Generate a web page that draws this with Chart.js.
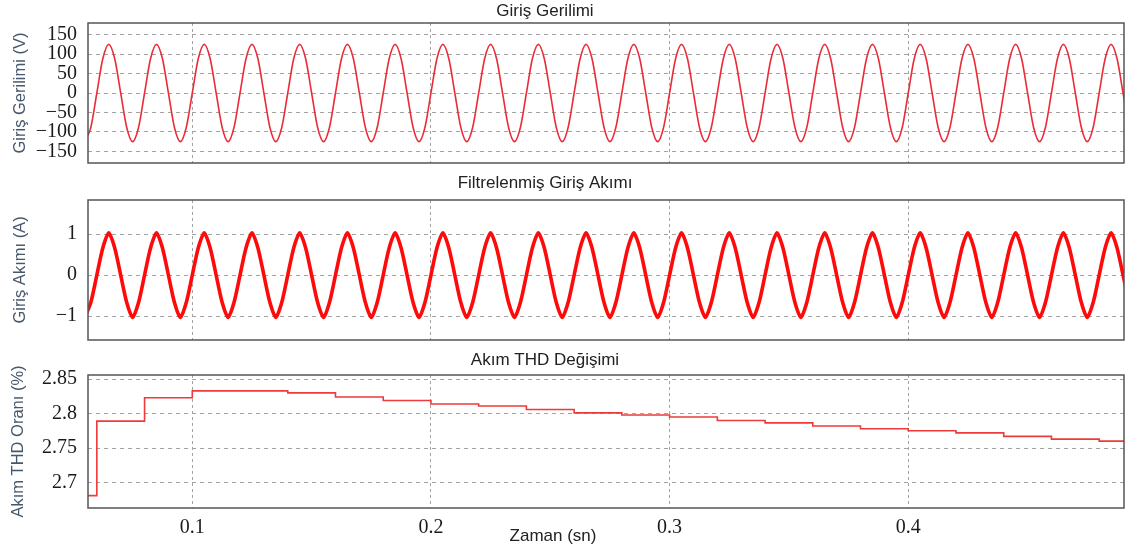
<!DOCTYPE html>
<html>
<head>
<meta charset="utf-8">
<title>Giriş Gerilimi / Akımı / THD</title>
<script src="https://cdn.jsdelivr.net/npm/chart.js@4.4.0/dist/chart.umd.min.js"></script>
<style>
  body { margin: 0; background: #fff; }
  #wrap { position: relative; width: 1125px; height: 547px; }
  #wrap canvas { position: absolute; left: 0; top: 0; }
</style>
</head>
<body>
<div id="wrap">
  <canvas id="voltageChart" width="1125" height="547"></canvas>
  <canvas id="currentChart" width="1125" height="547"></canvas>
  <canvas id="thdChart" width="1125" height="547"></canvas>
</div>
<script>
// sample times (s), one row = one 20 ms mains cycle
const sampleTime = [
    0.055, 0.0575, 0.06, 0.0625, 0.065, 0.0675, 0.07, 0.0725,
    0.075, 0.0775, 0.08, 0.0825, 0.085, 0.0875, 0.09, 0.0925,
    0.095, 0.0975, 0.1, 0.1025, 0.105, 0.1075, 0.11, 0.1125,
    0.115, 0.1175, 0.12, 0.1225, 0.125, 0.1275, 0.13, 0.1325,
    0.135, 0.1375, 0.14, 0.1425, 0.145, 0.1475, 0.15, 0.1525,
    0.155, 0.1575, 0.16, 0.1625, 0.165, 0.1675, 0.17, 0.1725,
    0.175, 0.1775, 0.18, 0.1825, 0.185, 0.1875, 0.19, 0.1925,
    0.195, 0.1975, 0.2, 0.2025, 0.205, 0.2075, 0.21, 0.2125,
    0.215, 0.2175, 0.22, 0.2225, 0.225, 0.2275, 0.23, 0.2325,
    0.235, 0.2375, 0.24, 0.2425, 0.245, 0.2475, 0.25, 0.2525,
    0.255, 0.2575, 0.26, 0.2625, 0.265, 0.2675, 0.27, 0.2725,
    0.275, 0.2775, 0.28, 0.2825, 0.285, 0.2875, 0.29, 0.2925,
    0.295, 0.2975, 0.3, 0.3025, 0.305, 0.3075, 0.31, 0.3125,
    0.315, 0.3175, 0.32, 0.3225, 0.325, 0.3275, 0.33, 0.3325,
    0.335, 0.3375, 0.34, 0.3425, 0.345, 0.3475, 0.35, 0.3525,
    0.355, 0.3575, 0.36, 0.3625, 0.365, 0.3675, 0.37, 0.3725,
    0.375, 0.3775, 0.38, 0.3825, 0.385, 0.3875, 0.39, 0.3925,
    0.395, 0.3975, 0.4, 0.4025, 0.405, 0.4075, 0.41, 0.4125,
    0.415, 0.4175, 0.42, 0.4225, 0.425, 0.4275, 0.43, 0.4325,
    0.435, 0.4375, 0.44, 0.4425, 0.445, 0.4475, 0.45, 0.4525,
    0.455, 0.4575, 0.46, 0.4625, 0.465, 0.4675, 0.47, 0.4725,
    0.475, 0.4775, 0.48, 0.4825, 0.485, 0.4875, 0.49, 0.4925
];

// input voltage (V)
const voltage = [
    -125, -88, 0, 88, 125, 88, 0, -88,
    -125, -88, 0, 88, 125, 88, 0, -88,
    -125, -88, 0, 88, 125, 88, 0, -88,
    -125, -88, 0, 88, 125, 88, 0, -88,
    -125, -88, 0, 88, 125, 88, 0, -88,
    -125, -88, 0, 88, 125, 88, 0, -88,
    -125, -88, 0, 88, 125, 88, 0, -88,
    -125, -88, 0, 88, 125, 88, 0, -88,
    -125, -88, 0, 88, 125, 88, 0, -88,
    -125, -88, 0, 88, 125, 88, 0, -88,
    -125, -88, 0, 88, 125, 88, 0, -88,
    -125, -88, 0, 88, 125, 88, 0, -88,
    -125, -88, 0, 88, 125, 88, 0, -88,
    -125, -88, 0, 88, 125, 88, 0, -88,
    -125, -88, 0, 88, 125, 88, 0, -88,
    -125, -88, 0, 88, 125, 88, 0, -88,
    -125, -88, 0, 88, 125, 88, 0, -88,
    -125, -88, 0, 88, 125, 88, 0, -88,
    -125, -88, 0, 88, 125, 88, 0, -88,
    -125, -88, 0, 88, 125, 88, 0, -88,
    -125, -88, 0, 88, 125, 88, 0, -88,
    -125, -88, 0, 88, 125, 88, 0, -88
];

// filtered input current (A)
const current = [
    -1.03, -0.66, 0, 0.66, 1.03, 0.66, 0, -0.66,
    -1.03, -0.66, 0, 0.66, 1.03, 0.66, 0, -0.66,
    -1.03, -0.66, 0, 0.66, 1.03, 0.66, 0, -0.66,
    -1.03, -0.66, 0, 0.66, 1.03, 0.66, 0, -0.66,
    -1.03, -0.66, 0, 0.66, 1.03, 0.66, 0, -0.66,
    -1.03, -0.66, 0, 0.66, 1.03, 0.66, 0, -0.66,
    -1.03, -0.66, 0, 0.66, 1.03, 0.66, 0, -0.66,
    -1.03, -0.66, 0, 0.66, 1.03, 0.66, 0, -0.66,
    -1.03, -0.66, 0, 0.66, 1.03, 0.66, 0, -0.66,
    -1.03, -0.66, 0, 0.66, 1.03, 0.66, 0, -0.66,
    -1.03, -0.66, 0, 0.66, 1.03, 0.66, 0, -0.66,
    -1.03, -0.66, 0, 0.66, 1.03, 0.66, 0, -0.66,
    -1.03, -0.66, 0, 0.66, 1.03, 0.66, 0, -0.66,
    -1.03, -0.66, 0, 0.66, 1.03, 0.66, 0, -0.66,
    -1.03, -0.66, 0, 0.66, 1.03, 0.66, 0, -0.66,
    -1.03, -0.66, 0, 0.66, 1.03, 0.66, 0, -0.66,
    -1.03, -0.66, 0, 0.66, 1.03, 0.66, 0, -0.66,
    -1.03, -0.66, 0, 0.66, 1.03, 0.66, 0, -0.66,
    -1.03, -0.66, 0, 0.66, 1.03, 0.66, 0, -0.66,
    -1.03, -0.66, 0, 0.66, 1.03, 0.66, 0, -0.66,
    -1.03, -0.66, 0, 0.66, 1.03, 0.66, 0, -0.66,
    -1.03, -0.66, 0, 0.66, 1.03, 0.66, 0, -0.66
];

// THD (%) is updated once per cycle, held in between
const thdTime = [0.055, 0.06, 0.08, 0.10, 0.14, 0.16, 0.18, 0.20, 0.22, 0.24, 0.26, 0.28,
                 0.30, 0.32, 0.34, 0.36, 0.38, 0.40, 0.42, 0.44, 0.46, 0.48, 0.4925];
const thdValue = [2.681, 2.789, 2.823, 2.833, 2.830, 2.824, 2.819, 2.814, 2.811, 2.806, 2.801, 2.798,
                  2.795, 2.790, 2.7865, 2.782, 2.778, 2.775, 2.772, 2.767, 2.763, 2.760, 2.760];

const timeTicks = [0.1, 0.2, 0.3, 0.4];
const voltageTicks = [-150, -100, -50, 0, 50, 100, 150];
const currentTicks = [-1, 0, 1];
const thdTicks = [2.7, 2.75, 2.8, 2.85];

const SANS = "'Liberation Sans', Arial, sans-serif";
const SERIF = "'Liberation Serif', 'Times New Roman', serif";
const GRID = '#a3a3a3';

// box around the plot area
const framePlugin = {
    id: 'frame',
    afterDraw(chart) {
        const { ctx, chartArea: a } = chart;
        ctx.save();
        ctx.strokeStyle = '#555';
        ctx.lineWidth = 1.5;
        ctx.strokeRect(a.left, a.top, a.right - a.left, a.bottom - a.top);
        ctx.restore();
    }
};

// free text (panel titles, time label)
const textPlugin = {
    id: 'panelText',
    afterDraw(chart, args, opts) {
        const ctx = chart.ctx;
        (opts.items || []).forEach(it => {
            ctx.save();
            ctx.font = it.font;
            ctx.fillStyle = it.color;
            ctx.textAlign = 'center';
            ctx.textBaseline = 'middle';
            ctx.fillText(it.text, it.x, it.y);
            ctx.restore();
        });
    }
};

function signed(v) {
    return v < 0 ? '\u2212' + Math.abs(v) : String(v);
}

function makePanel(id, cfg) {
    return new Chart(document.getElementById(id), {
        type: 'line',
        data: { datasets: cfg.datasets },
        options: {
            responsive: false,
            animation: false,
            devicePixelRatio: 1,
            layout: { padding: { top: cfg.top, bottom: cfg.bottom, left: 0, right: 1 } },
            plugins: {
                legend: { display: false },
                tooltip: { enabled: false },
                panelText: { items: cfg.texts }
            },
            scales: {
                x: {
                    type: 'linear',
                    min: 0.0563,
                    max: 0.4904,
                    afterBuildTicks: s => { s.ticks = timeTicks.map(v => ({ value: v })); },
                    afterFit: s => { s.height = cfg.xHeight; },
                    grid: { color: GRID, lineWidth: 1, drawTicks: false },
                    border: { display: false, dash: [3, 3] },
                    ticks: {
                        display: cfg.showTime,
                        autoSkip: false,
                        maxRotation: 0,
                        padding: 8,
                        color: '#1a1a1a',
                        font: { family: SERIF, size: 20 },
                        callback: v => String(v)
                    }
                },
                y: {
                    min: cfg.yMin,
                    max: cfg.yMax,
                    afterBuildTicks: s => { s.ticks = cfg.yTicks.map(v => ({ value: v })); },
                    afterFit: s => { s.width = 88; },
                    grid: { color: GRID, lineWidth: 1, drawTicks: false },
                    border: { display: false, dash: [4, 4] },
                    ticks: {
                        autoSkip: false,
                        padding: 11,
                        color: '#1a1a1a',
                        font: { family: SERIF, size: 20 },
                        callback: v => signed(v)
                    },
                    title: {
                        display: true,
                        text: cfg.yTitle,
                        color: '#46586b',
                        font: { family: SANS, size: 16.5 },
                        padding: { top: cfg.titlePad, bottom: 0 }
                    }
                }
            }
        },
        plugins: [framePlugin, textPlugin]
    });
}

makePanel('voltageChart', {
    top: 22, bottom: 384, xHeight: 0,
    yMin: -180, yMax: 180, yTicks: voltageTicks,
    yTitle: 'Giriş Gerilimi (V)', titlePad: 11, showTime: false,
    texts: [{ text: 'Giriş Gerilimi', x: 545, y: 11, font: '17px ' + SANS, color: '#222' }],
    datasets: [{
        data: sampleTime.map((t, i) => ({ x: t, y: voltage[i] })),
        borderColor: '#ea2c38',
        borderWidth: 1.6,
        pointRadius: 0,
        cubicInterpolationMode: 'monotone'
    }]
});

makePanel('currentChart', {
    top: 200, bottom: 207, xHeight: 0,
    yMin: -1.58, yMax: 1.83, yTicks: currentTicks,
    yTitle: 'Giriş Akımı (A)', titlePad: 11, showTime: false,
    texts: [{ text: 'Filtrelenmiş Giriş Akımı', x: 545, y: 183, font: '17px ' + SANS, color: '#222' }],
    datasets: [{
        data: sampleTime.map((t, i) => ({ x: t, y: current[i] })),
        borderColor: '#ff0a0a',
        borderWidth: 3.6,
        pointRadius: 0,
        tension: 0.25
    }]
});

makePanel('thdChart', {
    top: 375, bottom: 6, xHeight: 33,
    yMin: 2.663, yMax: 2.856, yTicks: thdTicks,
    yTitle: 'Akım THD Oranı (%)', titlePad: 9, showTime: true,
    texts: [
        { text: 'Akım THD Değişimi', x: 545, y: 360, font: '17px ' + SANS, color: '#222' },
        { text: 'Zaman (sn)', x: 553, y: 536, font: '17px ' + SANS, color: '#222' }
    ],
    datasets: [{
        data: thdTime.map((t, i) => ({ x: t, y: thdValue[i] })),
        borderColor: '#ee3a3a',
        borderWidth: 1.6,
        pointRadius: 0,
        stepped: 'before'
    }]
});
</script>
</body>
</html>
